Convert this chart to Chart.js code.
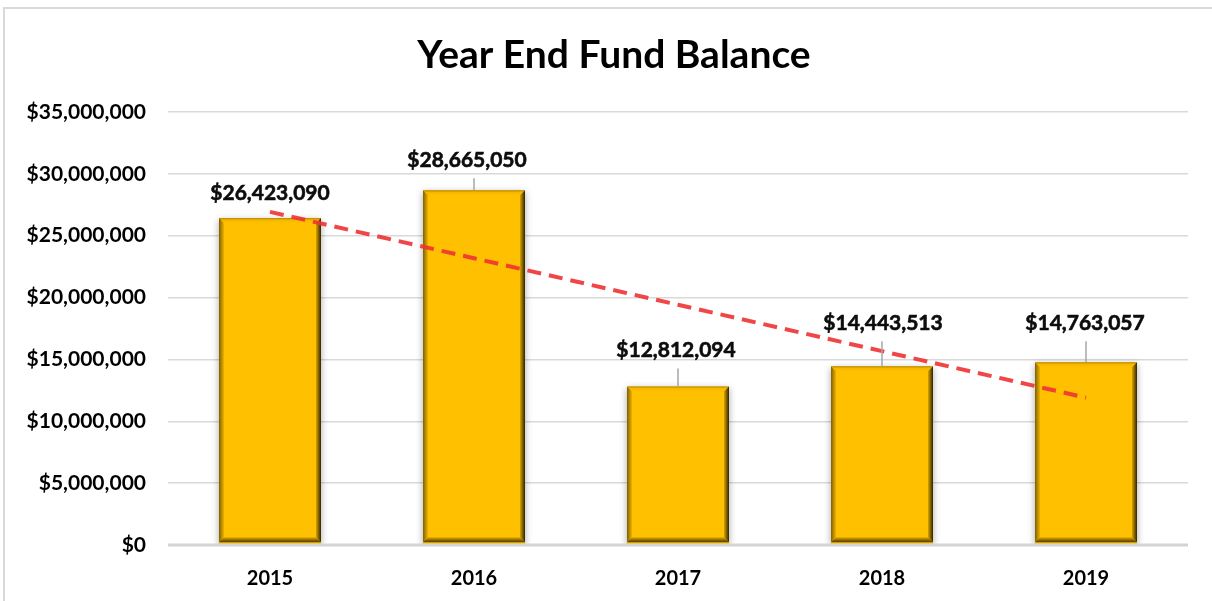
<!DOCTYPE html>
<html>
<head>
<meta charset="utf-8">
<script src="https://cdn.jsdelivr.net/npm/chart.js@4.4.1/dist/chart.umd.min.js"></script>
<style>
  html, body { margin: 0; padding: 0; background: #fff; }
  #wrap { width: 1212px; height: 601px; }
</style>
</head>
<body>
<div id="wrap"><canvas id="fund-chart" width="1212" height="601"></canvas></div>
<script>
const chartTitle = 'Year End Fund Balance';
const years = ['2015', '2016', '2017', '2018', '2019'];
const balances = [26423090, 28665050, 12812094, 14443513, 14763057];
// dashed trend line at each year
const trendValues = [26930000, 23180000, 19420000, 15670000, 11910000];
const yMin = 0;
const yMax = 35000000;
const yStep = 5000000;

// how far each value label sits above its bar, and a small sideways nudge (px)
const labelLift = [25, 30, 36, 43, 39];
const labelShift = [0, -7, -2, 1, -1];

const money = v => '$' + Number(v).toLocaleString('en-US');

Chart.defaults.font.family = 'Lato, "Open Sans", sans-serif';
Chart.defaults.color = '#000';

// Light frame round the chart like the spreadsheet chart box, plus the title
const framePlugin = {
    id: 'frame',
    beforeDraw(chart) {
        const ctx = chart.ctx;
        ctx.save();
        ctx.fillStyle = '#fff';
        ctx.fillRect(0, 0, chart.width, chart.height);
        ctx.strokeStyle = '#d9d9d9';
        ctx.lineWidth = 2;
        ctx.beginPath();
        ctx.moveTo(4, chart.height);
        ctx.lineTo(4, 8);
        ctx.lineTo(chart.width, 8);
        ctx.stroke();

        // title sits centred on the whole chart box, not the plot
        ctx.fillStyle = '#000';
        ctx.font = 'bold 39px Lato, "Open Sans", sans-serif';
        ctx.textAlign = 'center';
        ctx.textBaseline = 'middle';
        ctx.fillText(chartTitle, 614, 55);
        ctx.restore();
    }
};

// Bevelled gold bars: soft shadow while the bars draw, then edge facets on top
const drawBevel = (ctx, l, r, t, b, size) => {
    const face = (pts, fill) => {
        ctx.beginPath();
        ctx.moveTo(pts[0][0], pts[0][1]);
        pts.slice(1).forEach(p => ctx.lineTo(p[0], p[1]));
        ctx.closePath();
        ctx.fillStyle = fill;
        ctx.fill();
    };
    let g = ctx.createLinearGradient(0, t, 0, t + size);
    g.addColorStop(0, '#b88a00');
    g.addColorStop(0.4, '#f5b800');
    g.addColorStop(1, '#ffc000');
    face([[l, t], [r, t], [r - size, t + size], [l + size, t + size]], g);

    g = ctx.createLinearGradient(l, 0, l + size, 0);
    g.addColorStop(0, '#7d6000');
    g.addColorStop(1, '#f0b200');
    face([[l, t], [l + size, t + size], [l + size, b - size], [l, b]], g);

    g = ctx.createLinearGradient(r, 0, r - size, 0);
    g.addColorStop(0, '#2e2400');
    g.addColorStop(1, '#d9a300');
    face([[r, t], [r - size, t + size], [r - size, b - size], [r, b]], g);

    g = ctx.createLinearGradient(0, b, 0, b - size);
    g.addColorStop(0, '#4a3800');
    g.addColorStop(1, '#e3a800');
    face([[l, b], [r, b], [r - size, b - size], [l + size, b - size]], g);
};

const bevelPlugin = {
    id: 'bevel',
    beforeDatasetDraw(chart, args) {
        if (chart.data.datasets[args.index].type !== 'bar') return;
        const ctx = chart.ctx;
        ctx.save();
        ctx.shadowColor = 'rgba(0,0,0,0.35)';
        ctx.shadowBlur = 7;
        ctx.shadowOffsetX = 0;
        ctx.shadowOffsetY = 2;
    },
    afterDatasetDraw(chart, args) {
        if (chart.data.datasets[args.index].type !== 'bar') return;
        const ctx = chart.ctx;
        ctx.restore();
        ctx.save();
        args.meta.data.forEach(bar => {
            const p = bar.getProps(['x', 'y', 'base', 'width'], true);
            drawBevel(ctx, p.x - p.width / 2, p.x + p.width / 2, p.y, p.base - 2, 5);
        });
        // zero line shows across the bar feet
        const y0 = chart.scales.y.getPixelForValue(0);
        ctx.strokeStyle = '#d4d4d4';
        ctx.lineWidth = 3;
        ctx.beginPath();
        ctx.moveTo(chart.chartArea.left, y0);
        ctx.lineTo(chart.chartArea.right, y0);
        ctx.stroke();
        ctx.restore();
    }
};

// Value labels above each bar, with a grey leader line when they sit far off
const valueLabelPlugin = {
    id: 'valueLabels',
    afterDatasetsDraw(chart) {
        const ctx = chart.ctx;
        const meta = chart.getDatasetMeta(0);
        ctx.save();
        ctx.font = 'bold 21px Lato, "Open Sans", sans-serif';
        ctx.textAlign = 'center';
        ctx.textBaseline = 'middle';
        meta.data.forEach((bar, i) => {
            const p = bar.getProps(['x', 'y'], true);
            const lx = p.x + labelShift[i];
            const ly = p.y - labelLift[i];
            const leadTop = ly + 18;
            if (p.y - leadTop > 8) {
                ctx.strokeStyle = '#a6a6a6';
                ctx.lineWidth = 1.5;
                ctx.beginPath();
                ctx.moveTo(p.x, leadTop);
                ctx.lineTo(p.x, p.y);
                ctx.stroke();
            }
            // a hairline stroke makes the text as heavy as the original
            ctx.fillStyle = '#0d0d0d';
            ctx.strokeStyle = '#0d0d0d';
            ctx.lineWidth = 0.6;
            ctx.fillText(money(balances[i]), lx, ly);
            ctx.strokeText(money(balances[i]), lx, ly);
        });
        ctx.restore();
    }
};

const chart = new Chart(document.getElementById('fund-chart'), {
    data: {
        labels: years,
        datasets: [
            {
                type: 'bar',
                label: 'Year End Fund Balance',
                data: balances,
                backgroundColor: '#ffc000',
                borderWidth: 0,
                categoryPercentage: 1,
                barPercentage: 0.5,
                order: 2
            },
            {
                type: 'line',
                label: 'Trend',
                data: trendValues,
                borderColor: 'rgba(240, 50, 50, 0.9)',
                borderWidth: 4,
                borderDash: [14, 8],
                pointRadius: 0,
                fill: false,
                tension: 0,
                order: 1
            }
        ]
    },
    options: {
        responsive: false,
        animation: false,
        layout: { padding: { left: 0, right: 24, top: 112, bottom: 0 } },
        plugins: {
            legend: { display: false },
            tooltip: { enabled: false },
            title: { display: false }
        },
        scales: {
            x: {
                grid: { display: false, drawTicks: false },
                border: { display: false },
                ticks: { font: { size: 20, weight: 'bold' }, padding: 22, color: '#000' },
                afterFit: scale => { scale.height = 56; }
            },
            y: {
                min: yMin,
                max: yMax,
                grid: { color: '#d9d9d9', lineWidth: 1.5, drawTicks: false },
                border: { display: false },
                ticks: {
                    stepSize: yStep,
                    padding: 22,
                    color: '#000',
                    font: { size: 21, weight: 'bold' },
                    callback: v => money(v)
                },
                afterFit: scale => { scale.width = 168; }
            }
        }
    },
    plugins: [framePlugin, bevelPlugin, valueLabelPlugin]
});
</script>
</body>
</html>
